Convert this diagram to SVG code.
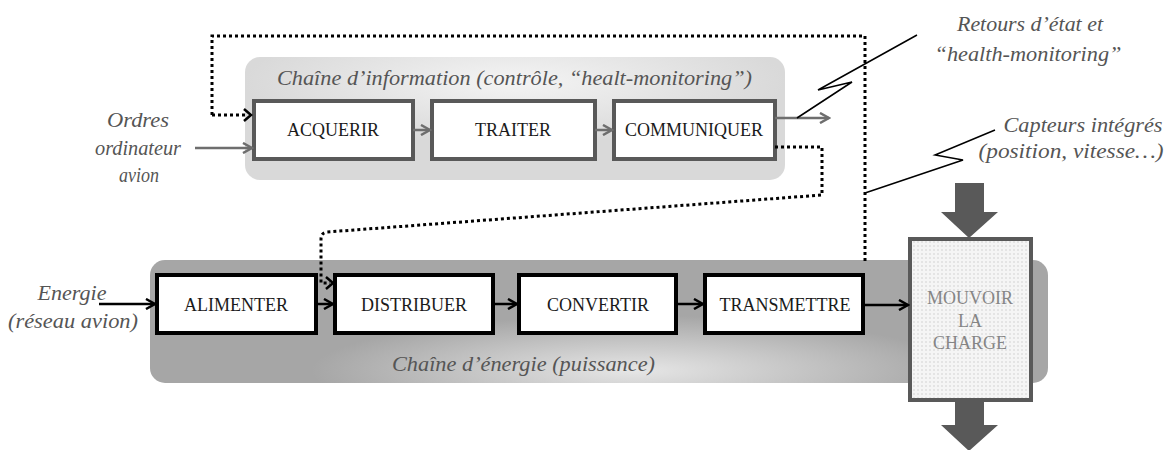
<svg xmlns="http://www.w3.org/2000/svg" width="1172" height="450" viewBox="0 0 1172 450">
<style>
.lbl{font-family:"Liberation Serif","DejaVu Serif","Noto Serif",serif;font-size:18px;fill:#1a1a1a;text-anchor:middle}
.ital{font-family:"Liberation Serif","DejaVu Serif","Noto Serif",serif;font-style:italic;font-size:20.5px;fill:#555}
.ibox{fill:#fff;stroke:#595959;stroke-width:4}
.ebox{fill:#fff;stroke:#000;stroke-width:4}
.garr{fill:none;stroke:#6e6e6e;stroke-width:2.5;marker-end:url(#mg)}
.barr{fill:none;stroke:#000;stroke-width:2.5;marker-end:url(#mb)}
.dot{fill:none;stroke:#000;stroke-width:3;stroke-dasharray:3 3}
.zz{fill:none;stroke:#000;stroke-width:1.5}
.big{fill:#595959}
</style>
<defs>
<marker id="mg" viewBox="0 0 12 12" refX="10" refY="6" markerWidth="12" markerHeight="12" markerUnits="userSpaceOnUse" orient="auto">
<path d="M1,1 L10,6 L1,11" fill="none" stroke="#6e6e6e" stroke-width="2.5"/>
</marker>
<marker id="mb" viewBox="0 0 12 12" refX="10" refY="6" markerWidth="12" markerHeight="12" markerUnits="userSpaceOnUse" orient="auto">
<path d="M1,1 L10,6 L1,11" fill="none" stroke="#000" stroke-width="2.5"/>
</marker>
<radialGradient id="ig" cx="0.5" cy="0.2" r="0.5">
<stop offset="0" stop-color="#f4f4f4"/>
<stop offset="1" stop-color="#d9d9d9"/>
</radialGradient>
<radialGradient id="eg" cx="0.55" cy="0.9" r="0.45" gradientTransform="translate(0.1 0) scale(0.8 1)">
<stop offset="0" stop-color="#e6e6e6"/>
<stop offset="1" stop-color="#a6a6a6"/>
</radialGradient>
<pattern id="dots" width="4" height="4" patternUnits="userSpaceOnUse">
<rect width="4" height="4" fill="#f5f5f5"/>
<circle cx="2" cy="2" r="0.7" fill="#c8c8c8"/>
</pattern>
</defs>

<g id="info-chain">
<rect x="245" y="57" width="540" height="123" rx="15" fill="url(#ig)"/>
<text class="ital" x="277" y="85" textLength="475" lengthAdjust="spacingAndGlyphs">Chaîne d’information (contrôle, “healt-monitoring”)</text>
</g>
<g id="energy-chain">
<rect x="150" y="260" width="898" height="123" rx="15" fill="url(#eg)"/>
<text class="ital" x="392" y="371" textLength="263" lengthAdjust="spacingAndGlyphs">Chaîne d’énergie (puissance)</text>
</g>

<g id="acquerir"><rect class="ibox" x="254" y="101" width="159" height="58"/><text class="lbl" x="333" y="136">ACQUERIR</text></g>
<g id="traiter"><rect class="ibox" x="432" y="101" width="163" height="58"/><text class="lbl" x="513" y="136">TRAITER</text></g>
<g id="communiquer"><rect class="ibox" x="614" y="101" width="161" height="58"/><text class="lbl" x="694" y="136">COMMUNIQUER</text></g>

<g id="alimenter"><rect class="ebox" x="157" y="275" width="159" height="58"/><text class="lbl" x="236" y="311">ALIMENTER</text></g>
<g id="distribuer"><rect class="ebox" x="335" y="275" width="158" height="58"/><text class="lbl" x="414" y="311">DISTRIBUER</text></g>
<g id="convertir"><rect class="ebox" x="519" y="275" width="157" height="58"/><text class="lbl" x="598" y="311">CONVERTIR</text></g>
<g id="transmettre"><rect class="ebox" x="705" y="275" width="158" height="58"/><text class="lbl" x="785" y="311">TRANSMETTRE</text></g>

<g id="mouvoir">
<rect x="910" y="239" width="121" height="161" fill="url(#dots)" stroke="#595959" stroke-width="4"/>
<text class="lbl" x="970" y="304" style="fill:#858585">MOUVOIR</text>
<text class="lbl" x="970" y="327" style="fill:#858585">LA</text>
<text class="lbl" x="970" y="349" style="fill:#858585">CHARGE</text>
</g>

<g id="ordres">
<text class="ital" x="138" y="127" style="text-anchor:middle" textLength="62" lengthAdjust="spacingAndGlyphs">Ordres</text>
<text class="ital" x="138" y="155" style="text-anchor:middle" textLength="86" lengthAdjust="spacingAndGlyphs">ordinateur</text>
<text class="ital" x="139" y="182" style="text-anchor:middle" textLength="40" lengthAdjust="spacingAndGlyphs">avion</text>
</g>
<g id="energie">
<text class="ital" x="72" y="300" style="text-anchor:middle" textLength="69" lengthAdjust="spacingAndGlyphs">Energie</text>
<text class="ital" x="73" y="328" style="text-anchor:middle" textLength="130" lengthAdjust="spacingAndGlyphs">(réseau avion)</text>
</g>
<g id="retours">
<text class="ital" x="1030" y="31" style="text-anchor:middle" textLength="146" lengthAdjust="spacingAndGlyphs">Retours d’état et</text>
<text class="ital" x="1028" y="61" style="text-anchor:middle" textLength="187" lengthAdjust="spacingAndGlyphs">“health-monitoring”</text>
</g>
<g id="capteurs">
<text class="ital" x="1083" y="132" style="text-anchor:middle" textLength="159" lengthAdjust="spacingAndGlyphs">Capteurs intégrés</text>
<text class="ital" x="1071" y="158" style="text-anchor:middle" textLength="185" lengthAdjust="spacingAndGlyphs">(position, vitesse…)</text>
</g>

<g id="load-arrows">
<path class="big" d="M955,183 H984 V212 H998 L969,238 L941,212 H955 Z"/>
<path class="big" d="M955,400 H984 V425 H998 L969,451 L941,425 H955 Z"/>
</g>

<g id="connectors">
<path class="garr" d="M195,148 H252"/>
<path class="garr" d="M413,130 H430"/>
<path class="garr" d="M595,130 H612"/>
<path class="garr" d="M775,118 H829"/>
<path class="barr" d="M99,304 H155"/>
<path class="barr" d="M316,304 H333"/>
<path class="barr" d="M493,304 H517"/>
<path class="barr" d="M676,304 H703"/>
<path class="barr" d="M863,305 H908"/>
<path class="dot" d="M212,115 V36 H865 V262"/>
<path d="M244,109 L251,115 L244,121" fill="none" stroke="#000" stroke-width="2.5"/>
<path class="dot" d="M212,115 H248"/>
<path class="dot" d="M775,147 H822 V195 L327,232 Q321,233 321,239 V283 H330"/>
<path d="M326,277 L333,283 L326,289" fill="none" stroke="#000" stroke-width="2.5"/>
<path class="zz" d="M797,118 L852,82 L818,90 L917,35"/>
<path class="zz" d="M865,193 L963,160 L935,155 L995,130"/>
</g>
</svg>
